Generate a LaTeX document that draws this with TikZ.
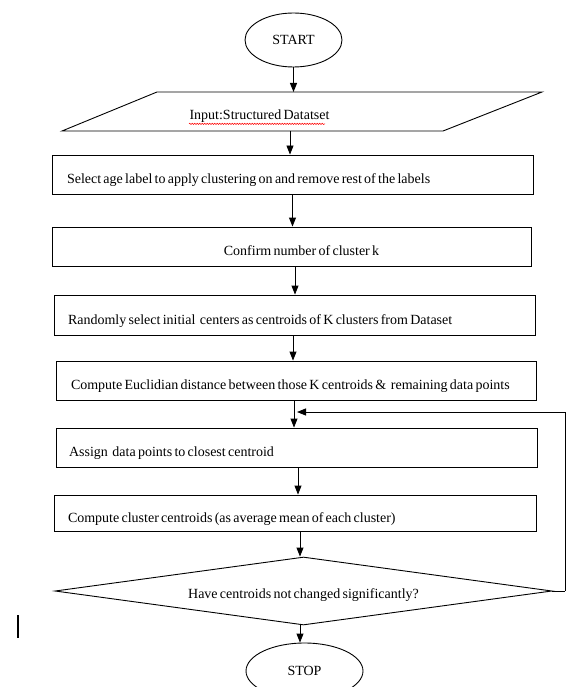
\documentclass[tikz,border=0pt]{standalone}
\usepackage{fontspec}
\setmainfont{Liberation Serif}[WordSpace=0.65]
\usetikzlibrary{shapes.geometric,arrows.meta,decorations.pathmorphing}
\tikzset{
  txt/.style={font=\fontsize{14}{16}\selectfont},
  procbox/.style={draw, line width=0.9pt, rectangle, inner sep=0pt, txt},
  oval/.style={draw, line width=0.9pt, ellipse, inner sep=0pt, txt},
  arr/.style={draw, line width=0.9pt, -{Triangle[length=9pt,width=7pt]}},
  edge/.style={draw, line width=0.9pt},
}
\newcommand{\lefttext}[2]{\raisebox{-9pt}[0pt][0pt]{\makebox[#1][l]{#2}}}
\newcommand{\lowtext}[2]{\raisebox{-#1}[0pt][0pt]{#2}}
\begin{document}
\begin{tikzpicture}[x=1pt,y=-1pt]
\clip (0,0) rectangle (566,687);
\fill[white] (0,0) rectangle (566,687);

\node[oval, minimum width=97pt, minimum height=54pt] (start) at (293.5,40) {START};

\coordinate (pTL) at (157,92);
\coordinate (pTR) at (542,92);
\coordinate (pBR) at (443,131);
\coordinate (pBL) at (62,131);
\draw[edge, line join=miter] (pTL) -- (pTR) -- (pBR) -- (pBL) -- cycle;
\node[txt, anchor=west] (inputtxt) at (186,116) {Input:Structured Datatset};
\draw[red, line width=0.5pt, decorate, decoration={snake, amplitude=0.7pt, segment length=2.5pt}]
  (inputtxt.south west) ++(3,-2) -- ++(136,0);

\node[procbox, minimum width=481pt, minimum height=39pt] (b1) at (292.5,174.5)
  {\lefttext{451pt}{Select age label to apply clustering on and remove rest of the labels}};
\node[procbox, minimum width=479pt, minimum height=39pt] (b2) at (291.5,246.5)
  {\lowtext{9pt}{\hspace*{20pt}Confirm number of cluster k}};
\node[procbox, minimum width=481pt, minimum height=40pt] (b3) at (294.5,315)
  {\lefttext{453pt}{Randomly select initial\ \ centers as centroids of K clusters from Dataset}};
\node[procbox, minimum width=480pt, minimum height=39pt] (b4) at (296,380.5)
  {\lefttext{450pt}{Compute Euclidian distance between those K centroids \&\ \ remaining data points}};
\node[procbox, minimum width=481pt, minimum height=39pt] (b5) at (296.5,447.5)
  {\lefttext{455pt}{Assign\ \ data points to closest centroid}};
\node[procbox, minimum width=482pt, minimum height=36pt] (b6) at (295,513)
  {\lefttext{454pt}{Compute cluster centroids (as average mean of each cluster)}};

\node[draw, line width=0.9pt, diamond, aspect=7.3, minimum width=497pt, minimum height=68pt,
      inner sep=0pt, txt] (dec) at (303.5,591) {\lowtext{7pt}{Have centroids not changed significantly?}};

\node[oval, minimum width=117pt, minimum height=56pt] (stop) at (304.5,671) {STOP};

\coordinate (inTop) at (289,92);
\coordinate (inBot) at (290,131);
\coordinate (join) at (297,412);
\coordinate (corner) at (565,591);

\draw[arr] (start.south) -- (start.south |- inTop);
\draw[arr] (inBot) -- (inBot |- b1.north);
\draw[arr] (b1.south) -- (b1.south |- b2.north);
\draw[arr] ([xshift=3.5pt]b2.south) -- ([xshift=3.5pt]b2.south |- b3.north);
\draw[arr] ([xshift=-1.5pt]b3.south) -- ([xshift=-1.5pt]b3.south |- b4.north);
\draw[arr] ([xshift=-2pt]b4.south) -- ([xshift=-2pt]b4.south |- b5.north);
\draw[arr] ([xshift=1.5pt]b5.south) -- ([xshift=1.5pt]b5.south |- b6.north);
\draw[arr] ([xshift=5pt]b6.south) -- ([xshift=5pt]b6.south |- dec.north);
\draw[arr] ([xshift=-3.5pt]dec.south) -- ([xshift=-3.5pt]dec.south |- stop.north);
\draw[edge] (dec.east) -- (corner);
\draw[arr] (corner) |- (join);

\draw[line width=1.8pt] (18,615) -- (18,638);
\end{tikzpicture}
\end{document}
